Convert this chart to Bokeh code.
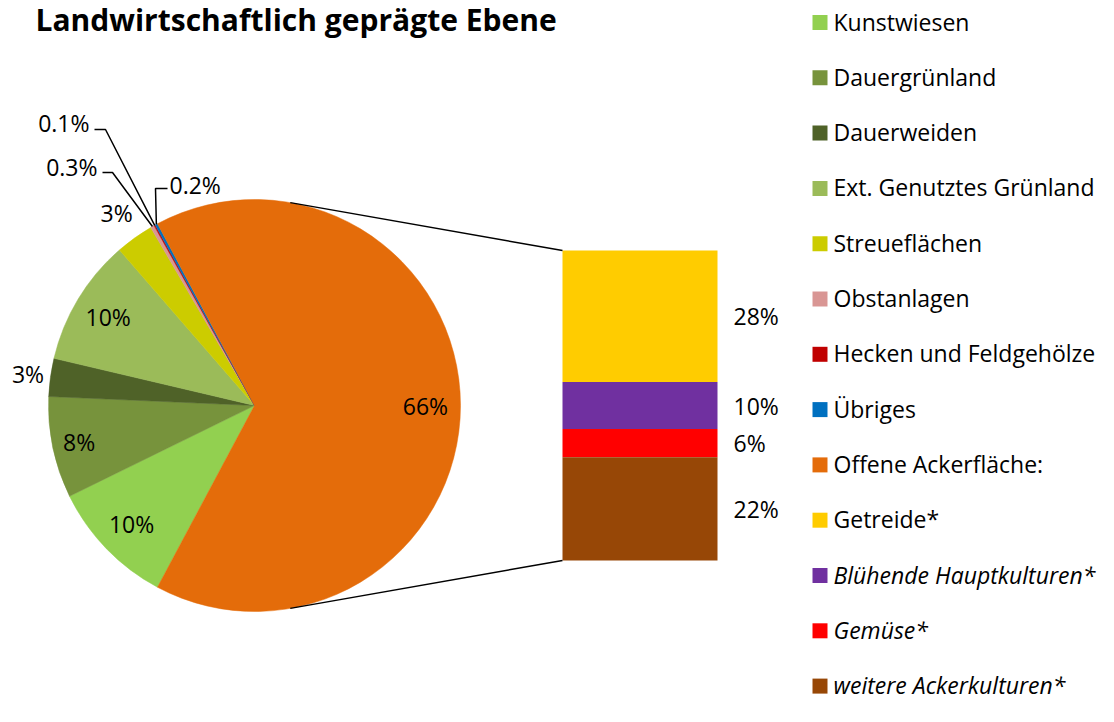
import math
from bokeh.plotting import figure
from bokeh.models import Range1d
from bokeh.embed import file_html
from bokeh.resources import INLINE
from bokeh.core.properties import value

# ---------------- data ----------------
title = "Landwirtschaftlich geprägte Ebene"

pie_categories = ["Kunstwiesen", "Dauergrünland", "Dauerweiden", "Ext. Genutztes Grünland",
                  "Streueflächen", "Obstanlagen", "Hecken und Feldgehölze", "Übriges",
                  "Offene Ackerfläche:"]
pie_values = [10, 8, 3, 10, 3, 0.3, 0.1, 0.2, 66]
pie_labels = ["10%", "8%", "3%", "10%", "3%", "0.3%", "0.1%", "0.2%", "66%"]
pie_colors = ["#92D050", "#77933C", "#4F6228", "#9BBB59", "#CCCC00",
              "#D99694", "#C00000", "#0070C0", "#E46C0A"]

bar_categories = ["Getreide*", "Blühende Hauptkulturen*", "Gemüse*", "weitere Ackerkulturen*"]
bar_values = [28, 10, 6, 22]
bar_labels = ["28%", "10%", "6%", "22%"]
bar_colors = ["#FFCC00", "#7030A0", "#FF0000", "#974706"]
bar_italic = [False, True, True, True]

# ---------------- layout ----------------
W, H = 1098, 706
FONT = "Open Sans"
FS = "23px"
CX, CY, R = 254, -405, 206           # pie centre (px, y negative = down)
BAR_X0, BAR_X1, BAR_TOP, BAR_PX_PER_PCT = 562, 717, -250, 4.697
LEG_X, LEG_Y0, LEG_DY, LEG_SQ = 819.5, -21, 55.3, 15

p = figure(width=W, height=H, output_backend="svg", toolbar_location=None,
           x_range=Range1d(0, W), y_range=Range1d(-H, 0),
           x_axis_location=None, y_axis_location=None, min_border=0)
p.grid.visible = False
p.outline_line_color = None
p.background_fill_color = "white"

# ---------------- pie ----------------
total = sum(pie_values)
n_other = len(pie_values) - 1
half = math.pi * pie_values[-1] / total
starts, ends = [0.0] * len(pie_values), [0.0] * len(pie_values)
starts[-1], ends[-1] = -half, half
cur = half
for i in reversed(range(n_other)):
    starts[i] = cur
    cur += 2 * math.pi * pie_values[i] / total
    ends[i] = cur

p.wedge(x=CX, y=CY, radius=R, start_angle=starts, end_angle=ends,
        fill_color=pie_colors, line_color=pie_colors, line_width=0.5)

mids = [(s + e) / 2 for s, e in zip(starts, ends)]

# labels placed radially (index -> radius factor)
radial = {0: 0.83, 1: 0.87, 2: 1.11, 3: 0.83, 4: 1.15, 8: 0.83}
lx, ly, lt = [], [], []
for i, f in radial.items():
    lx.append(CX + f * R * math.cos(mids[i]))
    ly.append(CY + f * R * math.sin(mids[i]))
    lt.append(pie_labels[i])
p.text(x=lx, y=ly, text=lt, text_align="center", text_baseline="middle",
       text_font=value(FONT), text_font_size=FS, text_color="black")

# small slices with leader lines: index -> (label x, label y, align, elbow points)
leaders = {
    6: (89, -122, "right", [(94, -129), (105, -129)]),
    5: (97, -166, "right", [(102, -172), (112, -172)]),
    7: (169, -184, "left", [(167, -188), (155, -188)]),
}
xs, ys = [], []
for i, (tx, ty, al, elbow) in leaders.items():
    ex = CX + R * math.cos(mids[i])
    ey = CY + R * math.sin(mids[i])
    xs.append([pt[0] for pt in elbow] + [ex])
    ys.append([pt[1] for pt in elbow] + [ey])
    p.text(x=[tx], y=[ty], text=[pie_labels[i]], text_align=al, text_baseline="middle",
           text_font=value(FONT), text_font_size=FS, text_color="black")
p.multi_line(xs=xs, ys=ys, line_color="black", line_width=1.5)

# ---------------- bar of pie ----------------
tops, bottoms = [], []
cur = BAR_TOP
for v in bar_values:
    tops.append(cur)
    cur -= v * BAR_PX_PER_PCT
    bottoms.append(cur)
p.quad(left=BAR_X0, right=BAR_X1, top=tops, bottom=bottoms,
       fill_color=bar_colors, line_color=None)
p.text(x=[733] * len(bar_values), y=[(t + b) / 2 for t, b in zip(tops, bottoms)],
       text=bar_labels, text_align="left", text_baseline="middle",
       text_font=value(FONT), text_font_size=FS, text_color="black")

# connector lines
ang = math.radians(80)
p.segment(x0=[CX + R * math.cos(ang), CX + R * math.cos(-ang)],
          y0=[CY + R * math.sin(ang), CY + R * math.sin(-ang)],
          x1=[BAR_X0, BAR_X0], y1=[tops[0], bottoms[-1]],
          line_color="black", line_width=1.5)

# ---------------- legend ----------------
leg_names = pie_categories + bar_categories
leg_colors = pie_colors + bar_colors
leg_italic = [False] * len(pie_categories) + bar_italic
leg_y = [LEG_Y0 - k * LEG_DY for k in range(len(leg_names))]
p.rect(x=[LEG_X] * len(leg_names), y=[y - 1 for y in leg_y], width=LEG_SQ, height=LEG_SQ,
       fill_color=leg_colors, line_color=None)
for style in ("normal", "italic"):
    sel = [k for k in range(len(leg_names)) if leg_italic[k] == (style == "italic")]
    p.text(x=[833] * len(sel), y=[leg_y[k] for k in sel], text=[leg_names[k] for k in sel],
           text_align="left", text_baseline="middle", text_font=value(FONT),
           text_font_size=FS, text_font_style=style, text_color="black")

# ---------------- title ----------------
p.text(x=[35], y=[-19], text=[title], text_align="left", text_baseline="middle",
       text_font=value(FONT), text_font_size="30px", text_font_style="bold",
       text_color="black")

open("out.html", "w").write(file_html(p, INLINE))
